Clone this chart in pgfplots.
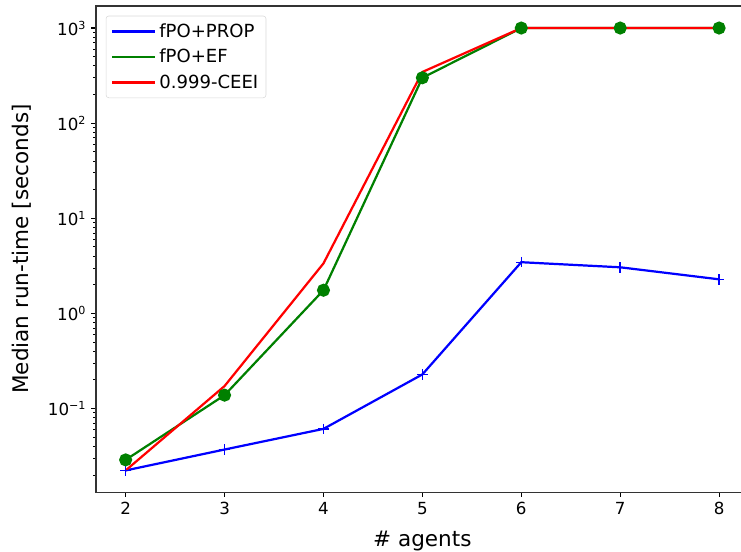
\documentclass[border=0pt]{standalone}
\usepackage{fontspec}
\setmainfont{DejaVu Sans}
\usepackage{pgfplots}
\pgfplotsset{compat=1.18}
\definecolor{mplgreen}{RGB}{0,128,0}
\begin{document}
\begin{tikzpicture}
\begin{semilogyaxis}[
  name=ax,
  scale only axis,
  width=470pt, height=350pt,
  xmin=1.7, xmax=8.3,
  ymin=0.0132, ymax=1706,
  xtick={2,3,4,5,6,7,8},
  ytick={0.1,1,10,100,1000},
  yticklabels={10\textsuperscript{−1},10\textsuperscript{0},10\textsuperscript{1},10\textsuperscript{2},10\textsuperscript{3}},
  minor ytick={0.02,0.03,0.04,0.05,0.06,0.07,0.08,0.09,
               0.2,0.3,0.4,0.5,0.6,0.7,0.8,0.9,
               2,3,4,5,6,7,8,9,
               20,30,40,50,60,70,80,90,
               200,300,400,500,600,700,800,900},
  minor x tick num=0,
  tick align=outside,
  tick pos=left,
  major tick length=3.5pt,
  minor tick length=2pt,
  every tick/.style={black, line width=0.8pt},
  minor tick style={black, line width=0.6pt},
  axis line style={line width=0.8pt, black!80},
  /pgf/number format/assume math mode=true,
  ticklabel style={font=\fontsize{12}{14}\selectfont},
  xlabel={\# agents},
  ylabel={Median run-time [seconds]},
  label style={font=\fontsize{15.5}{18}\selectfont},
  xlabel shift=5pt,
  ylabel shift=5pt,
  legend style={at={(0.015,0.98)}, anchor=north west, draw=black!15,
    rounded corners=2pt, font=\fontsize{13}{15}\selectfont,
    inner sep=3.5pt, row sep=3pt},
  legend cell align=left,
  legend image code/.code={\draw[#1] (0cm,0cm) -- (1.1cm,0cm);},
]
\addlegendimage{blue, line width=1.6pt}
\addlegendentry{fPO+PROP}
\addlegendimage{mplgreen, line width=1.6pt}
\addlegendentry{fPO+EF}
\addlegendimage{red, line width=1.6pt}
\addlegendentry{0.999-CEEI}

\addplot[blue, line width=1.6pt, mark=+, mark size=3.8pt,
  mark options={line width=1pt}, forget plot] coordinates {
  (2,0.0223) (3,0.037) (4,0.061) (5,0.228) (6,3.45) (7,3.05) (8,2.28)};
\addplot[mplgreen, line width=1.6pt, mark=*, mark size=3.9pt,
  mark options={fill=mplgreen, draw=mplgreen}, forget plot] coordinates {
  (2,0.0288) (3,0.138) (4,1.75) (5,300) (6,1000) (7,1000) (8,1000)};
\addplot[red, line width=1.6pt, forget plot] coordinates {
  (2,0.0223) (3,0.172) (4,3.35) (5,345) (6,1000) (7,1000) (8,1000)};
\end{semilogyaxis}
\pgfresetboundingbox
\path[use as bounding box] ([shift={(-69.1pt,-42.5pt)}]ax.south west)
  rectangle ([shift={(464.4pt,354.3pt)}]ax.south west);
\end{tikzpicture}
\end{document}
